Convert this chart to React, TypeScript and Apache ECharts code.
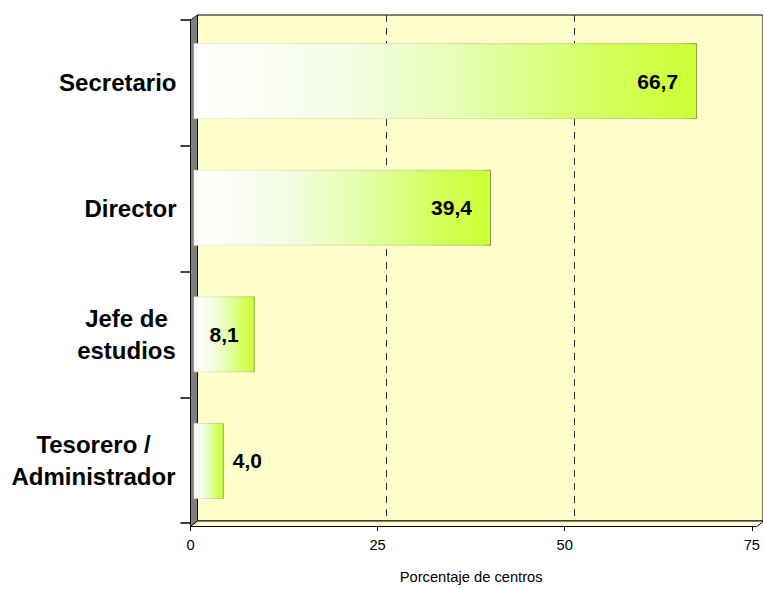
import React, { useEffect, useRef } from "react";
import * as echarts from "echarts";

const categories = ["Secretario", "Director", "Jefe de\nestudios", "Tesorero /\nAdministrador"];
const values = [66.7, 39.4, 8.1, 4.0];
const labelPositions = ["insideRight", "insideRight", "inside", "right"];
const xTicks = [0, 25, 50, 75];
const xAxisTitle = "Porcentaje de centros";

const W = 763;
const H = 589;
const FRONT_LEFT = 190.5;
const FRONT_TOP = 20;
const FRONT_BOTTOM = 526.5;
const DEPTH_X = 7;
const DEPTH_Y = 5.5;
const SCALE_W = 566.25;
const FONT = "Liberation Sans, Arial, sans-serif";

export default function App() {
  const ref = useRef<HTMLDivElement>(null);
  useEffect(() => {
    document.body.style.margin = "0";
    const chart = echarts.init(ref.current!, undefined, { renderer: "svg" });
    const barFill = new echarts.graphic.LinearGradient(0, 0, 1, 0, [
      { offset: 0, color: "#FFFFFF" },
      { offset: 0.3, color: "#F4FCE6" },
      { offset: 0.55, color: "#E4FFAE" },
      { offset: 0.82, color: "#D4FF5C" },
      { offset: 1, color: "#CCFF33" },
    ]);
    const barBorder = new echarts.graphic.LinearGradient(0, 0, 1, 0, [
      { offset: 0, color: "rgba(230,230,200,0.6)" },
      { offset: 0.97, color: "rgba(170,190,90,0.7)" },
      { offset: 1, color: "#8C9C3A" },
    ]);
    const backLeft = FRONT_LEFT + DEPTH_X;
    const backTop = FRONT_TOP - DEPTH_Y + 0.5;
    const backBottom = FRONT_BOTTOM - DEPTH_Y;
    const midX = FRONT_LEFT + 3;
    const midY = 2.2;
    const dataMax = xTicks[xTicks.length - 1];

    const catStyle = { fontFamily: FONT, fontWeight: "bold", fontSize: 24, lineHeight: 32, color: "#000000" };
    const labelFormatter = (v: string) => {
      const lines = v.split("\n");
      if (lines.length === 1) return v;
      const key = lines[1].length > 10 ? "w" : "n";
      return lines.map((l) => `{${key}|${l}}`).join("\n");
    };

    chart.setOption({
      animation: false,
      grid: [
        {
          left: backLeft,
          top: backTop,
          width: SCALE_W,
          height: backBottom - backTop,
          show: true,
          backgroundColor: "#FFFFCC",
          borderColor: "#000000",
          borderWidth: 1,
          z: 0,
        },
        {
          left: midX,
          top: FRONT_TOP - midY,
          width: SCALE_W,
          height: FRONT_BOTTOM - FRONT_TOP,
        },
        {
          left: FRONT_LEFT,
          top: FRONT_TOP,
          width: SCALE_W,
          height: FRONT_BOTTOM - FRONT_TOP,
        },
      ],
      xAxis: [
        {
          gridIndex: 0,
          type: "value",
          min: 0,
          max: dataMax,
          interval: 25,
          axisLine: { show: false },
          axisTick: { show: false },
          axisLabel: { show: false },
          splitLine: {
            show: true,
            showMinLine: false,
            showMaxLine: false,
            lineStyle: { color: "#333333", type: [7, 6], width: 1 },
          },
        },
        {
          gridIndex: 1,
          type: "value",
          min: 0,
          max: dataMax,
          show: false,
        },
        {
          gridIndex: 2,
          type: "value",
          min: 0,
          max: dataMax,
          interval: 25,
          axisLine: { show: true, lineStyle: { color: "#000000", width: 2 } },
          axisTick: { show: true, length: 8, inside: false, lineStyle: { color: "#000000", width: 1 } },
          axisLabel: {
            show: true,
            margin: 14,
            color: "#000000",
            fontFamily: FONT,
            fontSize: 14.7,
          },
          splitLine: { show: false },
          name: xAxisTitle,
          nameLocation: "middle",
          nameGap: 46,
          nameTextStyle: {
            color: "#000000",
            fontFamily: FONT,
            fontSize: 14.7,
          },
        },
      ],
      yAxis: [
        { gridIndex: 0, type: "category", data: categories, inverse: true, show: false },
        { gridIndex: 1, type: "category", data: categories, inverse: true, show: false },
        {
          gridIndex: 2,
          type: "category",
          data: categories,
          inverse: true,
          axisLine: { show: true, lineStyle: { color: "#000000", width: 2 } },
          axisTick: { show: true, length: 10, inside: false, lineStyle: { color: "#000000", width: 1.5 } },
          axisLabel: {
            show: true,
            margin: 14,
            ...catStyle,
            align: "right",
            formatter: labelFormatter,
            rich: {
              n: { ...catStyle, width: 100, align: "center" },
              w: { ...catStyle, width: 166, align: "center" },
            },
          },
          splitLine: { show: false },
        },
      ],
      graphic: [
        {
          type: "polygon",
          z: 5,
          shape: {
            points: [
              [FRONT_LEFT, FRONT_TOP],
              [backLeft, backTop],
              [backLeft, backBottom],
              [FRONT_LEFT, FRONT_BOTTOM],
            ],
          },
          style: { fill: "#808080", stroke: "#000000", lineWidth: 0.8 },
        },
        {
          type: "polygon",
          z: 5,
          shape: {
            points: [
              [FRONT_LEFT, FRONT_BOTTOM],
              [backLeft, backBottom],
              [backLeft + SCALE_W, backBottom],
              [FRONT_LEFT + SCALE_W, FRONT_BOTTOM],
            ],
          },
          style: { fill: "#FFFFCC", stroke: "#000000", lineWidth: 1 },
        },
      ],
      series: [
        {
          type: "bar",
          xAxisIndex: 1,
          yAxisIndex: 1,
          barWidth: 76,
          z: 10,
          data: values.map((v, i) => ({
            value: v,
            label: {
              show: true,
              position: labelPositions[i],
              distance: labelPositions[i] === "right" ? 9 : 19,
            },
          })),
          itemStyle: { color: barFill, borderColor: barBorder, borderWidth: 1 },
          label: {
            show: true,
            color: "#000000",
            fontFamily: FONT,
            fontWeight: "bold",
            fontSize: 21,
            formatter: (p: any) => p.value.toFixed(1).replace(".", ","),
          },
        },
      ],
    });
    return () => chart.dispose();
  }, []);
  return <div ref={ref} style={{ width: W, height: H }} />;
}
